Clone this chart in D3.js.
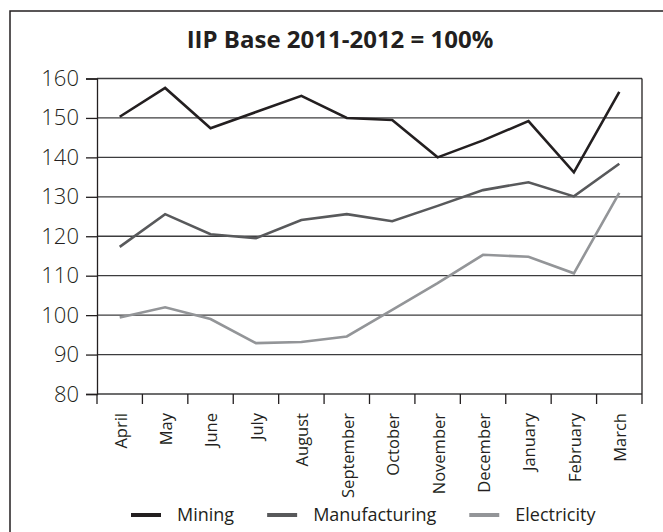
<!DOCTYPE html>
<html>
<head>
<meta charset="utf-8">
<script src="https://cdn.jsdelivr.net/npm/d3@7"></script>
<style>
  body { margin: 0; background: #fff; }
  text { font-family: "Open Sans", sans-serif; fill: #231f20; }
</style>
</head>
<body>
<div id="chart"></div>
<script>
const width = 663;
const height = 532;

const months = ["April","May","June","July","August","September","October","November","December","January","February","March"];
const mining = [150.3, 157.6, 147.4, 151.5, 155.6, 150.0, 149.5, 140.0, 144.3, 149.2, 136.2, 156.6];
const manufacturing = [117.3, 125.6, 120.5, 119.5, 124.1, 125.6, 123.8, 127.7, 131.7, 133.7, 130.1, 138.4];
const electricity = [99.4, 102.0, 99.0, 92.9, 93.2, 94.6, 101.3, 108.1, 115.3, 114.8, 110.6, 131.0];
const seriesNames = ["Mining", "Manufacturing", "Electricity"];
const yTicks = [80, 90, 100, 110, 120, 130, 140, 150, 160];

const colors = ["#231f20", "#58595b", "#939598"];

const margin = { left: 97, right: 21, top: 78.5, bottom: 138 };

let svg = d3.select("#chart")
    .append("svg")
    .attr("width", width)
    .attr("height", height);

svg.append("rect")
    .attr("width", width).attr("height", height)
    .attr("fill", "#fff");

// outer frame (runs past the right and bottom edge)
svg.append("rect")
    .attr("x", 10).attr("y", 11)
    .attr("width", 700).attr("height", 600)
    .attr("fill", "none")
    .attr("stroke", "#231f20")
    .attr("stroke-width", 1.5);

svg.append("text")
    .attr("x", 340).attr("y", 48)
    .attr("text-anchor", "middle")
    .style("font-size", "24px")
    .style("font-weight", "bold")
    .text("IIP Base 2011-2012 = 100%");

let x = d3.scaleBand()
    .domain(months)
    .range([margin.left, width - margin.right]);

let y = d3.scaleLinear()
    .domain([80, 160])
    .range([height - margin.bottom, margin.top]);

// gridlines
svg.append("g")
    .selectAll("line")
    .data(yTicks)
    .join("line")
    .attr("x1", margin.left)
    .attr("x2", width - margin.right)
    .attr("y1", d => y(d))
    .attr("y2", d => y(d))
    .attr("stroke", "#3c3c3e")
    .attr("stroke-width", 1.3);

// right border
svg.append("line")
    .attr("x1", width - margin.right).attr("x2", width - margin.right)
    .attr("y1", y(160)).attr("y2", y(80))
    .attr("stroke", "#231f20")
    .attr("stroke-width", 1.3);

// y axis
let yAxis = svg.append("g")
    .attr("transform", `translate(${margin.left},0)`)
    .call(d3.axisLeft(y).tickValues(yTicks).tickSize(11).tickPadding(7));
yAxis.select(".domain").attr("stroke", "#231f20").attr("stroke-width", 1.3);
yAxis.selectAll(".tick line").attr("stroke", "#231f20").attr("stroke-width", 1.3);
yAxis.selectAll(".tick text")
    .style("font-family", "'Open Sans', sans-serif")
    .style("font-size", "22px")
    .style("font-weight", 300)
    .attr("fill", "#231f20");

// x axis: ticks sit on the band edges
let xEdges = months.map(m => x(m)).concat([x.range()[1]]);
svg.append("g")
    .selectAll("line")
    .data(xEdges)
    .join("line")
    .attr("x1", d => d).attr("x2", d => d)
    .attr("y1", y(80)).attr("y2", y(80) + 10)
    .attr("stroke", "#231f20")
    .attr("stroke-width", 1.3);

svg.append("g")
    .selectAll("text")
    .data(months)
    .join("text")
    .attr("transform", d => `translate(${x(d) + x.bandwidth() / 2 + 1},${y(80) + 19}) rotate(-90)`)
    .attr("text-anchor", "end")
    .attr("dy", "0.36em")
    .style("font-size", "16.5px")
    .text(d => d);

// lines
let series = [mining, manufacturing, electricity];
let line = d3.line()
    .x((d, i) => x(months[i]) + x.bandwidth() / 2)
    .y(d => y(d));

svg.append("g")
    .selectAll("path")
    .data(series)
    .join("path")
    .attr("fill", "none")
    .attr("stroke", (d, i) => colors[i])
    .attr("stroke-width", 2.6)
    .attr("stroke-linejoin", "miter")
    .attr("d", line);

// legend
let legend = svg.append("g");
let lx = 131;
const ly = 515;
seriesNames.forEach((name, i) => {
    legend.append("line")
        .attr("x1", lx).attr("x2", lx + 30)
        .attr("y1", ly).attr("y2", ly)
        .attr("stroke", colors[i])
        .attr("stroke-width", 4);
    let t = legend.append("text")
        .attr("x", lx + 46).attr("y", ly)
        .attr("dy", "0.35em")
        .style("font-size", "18px")
        .text(name);
    lx += 46 + t.node().getComputedTextLength() + 33;
});
</script>
</body>
</html>
